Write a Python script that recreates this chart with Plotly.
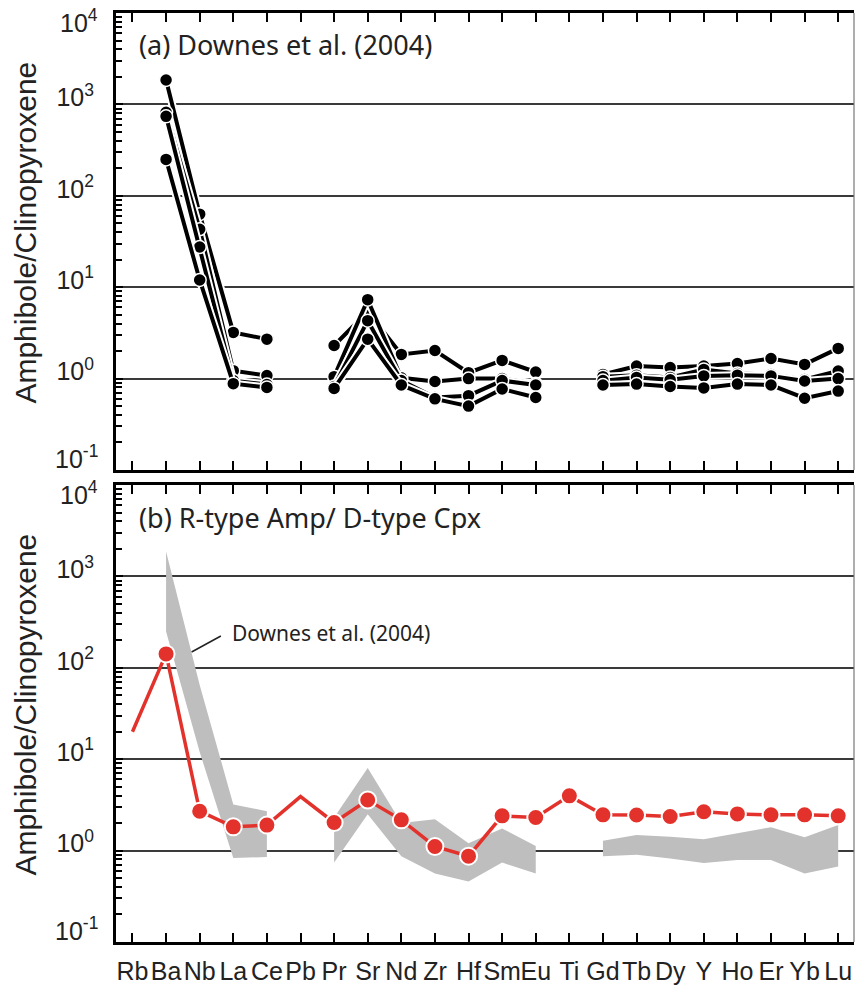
import plotly.graph_objects as go

# ---------------- data ----------------
elements = ["Rb", "Ba", "Nb", "La", "Ce", "Pb", "Pr", "Sr", "Nd", "Zr", "Hf",
            "Sm", "Eu", "Ti", "Gd", "Tb", "Dy", "Y", "Ho", "Er", "Yb", "Lu"]

# (a) Downes et al. (2004) amphibole/clinopyroxene ratios (None = not reported)
downes_1 = [None, 1850, 63, 3.2, 2.7, None, 2.3, 5.4, 1.84, 2.03, 1.16, 1.58, 1.18, None,
            1.11, 1.37, 1.32, 1.37, 1.46, 1.66, 1.43, 2.14]
downes_2 = [None, 820, 43, 1.22, 1.08, None, 1.05, 7.3, 1.02, 0.93, 1.0, 1.0, 0.88, None,
            1.05, 1.09, 1.03, 1.26, 1.14, 1.11, 0.98, 1.21]
downes_3 = [None, 740, 27.5, 0.95, 0.86, None, 0.82, 4.3, 0.95, 0.62, 0.65, 0.95, 0.85, None,
            0.95, 1.03, 0.97, 1.07, 1.09, 1.07, 0.94, 1.0]
downes_4 = [None, 250, 12, 0.88, 0.80, None, 0.78, 2.7, 0.85, 0.60, 0.50, 0.77, 0.62, None,
            0.85, 0.87, 0.82, 0.79, 0.87, 0.85, 0.61, 0.73]

# (b) grey field of Downes et al. (2004)
band_hi = [None, 1870, 65, 3.2, 2.7, None, 2.3, 8.0, 2.0, 2.2, 1.2, 1.75, 1.12, None,
           1.28, 1.48, 1.42, 1.33, 1.55, 1.8, 1.4, 1.9]
band_lo = [None, 250, 12, 0.83, 0.85, None, 0.74, 2.5, 0.87, 0.56, 0.46, 0.74, 0.56, None,
           0.87, 0.9, 0.82, 0.73, 0.79, 0.79, 0.56, 0.67]

# (b) R-type Amp / D-type Cpx
rtype = [20, 142, 2.7, 1.82, 1.9, 3.9, 2.03, 3.58, 2.17, 1.11, 0.87, 2.4, 2.3, 3.97,
         2.46, 2.45, 2.36, 2.66, 2.52, 2.46, 2.46, 2.4]
rtype_no_marker = ["Rb", "Pb"]

ytick_vals = [0.1, 1, 10, 100, 1000, 10000]
ytick_text = ["10<sup>-1</sup>", "10<sup>0</sup>", "10<sup>1</sup>",
              "10<sup>2</sup>", "10<sup>3</sup>", "10<sup>4</sup>"]

# ---------------- figure ----------------
x_idx = list(range(len(elements)))
fig = go.Figure()

for s in [downes_1, downes_2, downes_3, downes_4]:
    fig.add_trace(go.Scatter(x=x_idx, y=s, mode="lines", xaxis="x", yaxis="y",
                             line=dict(color="white", width=8), connectgaps=False,
                             hoverinfo="skip", showlegend=False))
    fig.add_trace(go.Scatter(x=x_idx, y=s, mode="lines+markers", xaxis="x", yaxis="y",
                             line=dict(color="black", width=4), connectgaps=False,
                             marker=dict(color="black", size=13,
                                         line=dict(color="white", width=1.5)),
                             showlegend=False))

runs, cur = [], []
for i, h in enumerate(band_hi):
    if h is None:
        if cur:
            runs.append(cur)
        cur = []
    else:
        cur.append(i)
if cur:
    runs.append(cur)
for r in runs:
    xs = r + r[::-1]
    ys = [band_hi[i] for i in r] + [band_lo[i] for i in r[::-1]]
    fig.add_trace(go.Scatter(x=xs, y=ys, mode="lines", fill="toself",
                             fillcolor="#bebebe", line=dict(width=0, color="#bebebe"),
                             xaxis="x2", yaxis="y2", hoverinfo="skip", showlegend=False))

red = "#e3322b"
fig.add_trace(go.Scatter(x=x_idx, y=rtype, mode="lines", xaxis="x2", yaxis="y2",
                         line=dict(color=red, width=3.5), showlegend=False))
mk_x = [i for i, e in enumerate(elements) if e not in rtype_no_marker]
mk_y = [rtype[i] for i in mk_x]
fig.add_trace(go.Scatter(x=mk_x, y=mk_y, mode="markers", xaxis="x2", yaxis="y2",
                         marker=dict(color=red, size=17, line=dict(color="white", width=2)),
                         showlegend=False))

xrange = [-0.49, 21.47]
xcommon = dict(range=xrange, tickmode="array", tickvals=x_idx, ticktext=elements,
               ticks="inside", ticklen=9, tickwidth=2, tickcolor="black",
               showline=True, linewidth=3, linecolor="black", mirror="ticks",
               showgrid=False, zeroline=False, automargin=False, tickangle=0)
# middle decade labels on the axis; the edge decades are placed as annotations
ycommon = dict(type="log", range=[-1, 4], tickmode="array", tickvals=ytick_vals,
               ticktext=[""] + ytick_text[1:-1] + [""], ticks="inside", ticklen=7,
               tickwidth=1.5, tickcolor="black", showline=True, linewidth=3,
               linecolor="black", mirror=False, showgrid=True, gridcolor="#3a3a3a",
               gridwidth=1.5, zeroline=False, ticklabelstandoff=14, ticklabelshift=-7,
               automargin=False,
               tickfont=dict(family="Liberation Sans, Arial", size=25, color="#222"),
               minor=dict(ticks="inside", ticklen=6, tickwidth=1.5, tickcolor="black",
                          dtick="D1", showgrid=False))

top_dom = [0.5081, 1.0]
bot_dom = [0.0, 0.4919]

fig.update_layout(
    width=855, height=987,
    margin=dict(l=116, r=1, t=13, b=45),
    paper_bgcolor="white", plot_bgcolor="white",
    xaxis=dict(**xcommon, domain=[0, 1], anchor="y", showticklabels=False),
    yaxis=dict(**ycommon, domain=top_dom, anchor="x"),
    xaxis2=dict(**xcommon, domain=[0, 1], anchor="y2", showticklabels=True,
                ticklabelstandoff=5,
                tickfont=dict(family="Liberation Sans, Arial", size=25, color="#222")),
    yaxis2=dict(**ycommon, domain=bot_dom, anchor="x2"),
)

tick_font = dict(family="Liberation Sans, Arial", size=25, color="#222")
for yr in ["y domain", "y2 domain"]:
    fig.add_annotation(text=ytick_text[-1], xref="paper", yref=yr, x=-0.022, y=1,
                       xanchor="right", yanchor="top", yshift=10, showarrow=False,
                       font=tick_font)
    fig.add_annotation(text=ytick_text[0], xref="paper", yref=yr, x=-0.022, y=0,
                       xanchor="right", yanchor="bottom", yshift=-5, showarrow=False,
                       font=tick_font)

for xr, yr in [("x domain", "y domain"), ("x2 domain", "y2 domain")]:
    fig.add_shape(type="line", xref=xr, yref=yr, x0=1, x1=1, y0=0, y1=1,
                  line=dict(color="#777", width=1.2))

# leader line for the grey field label
fig.add_shape(type="line", xref="x2", yref="y2", x0=1.76, y0=149, x1=2.63, y1=223,
              line=dict(color="#222", width=1.5))

title_font = dict(family="Noto Sans, Open Sans", size=27, color="#222")
fig.add_annotation(text="(a) Downes et al. (2004)", xref="x domain", yref="y domain",
                   x=0.0285, y=0.930, xanchor="left", yanchor="middle",
                   showarrow=False, font=title_font)
fig.add_annotation(text="(b) R-type Amp/ D-type Cpx", xref="x2 domain", yref="y2 domain",
                   x=0.0285, y=0.930, xanchor="left", yanchor="middle",
                   showarrow=False, font=title_font)
fig.add_annotation(text="Downes et al. (2004)", xref="x2", yref="y2",
                   x=2.9, y=2.38, xanchor="left", yanchor="middle", showarrow=False,
                   font=dict(family="Noto Sans, Open Sans", size=21, color="#222"))

ytitle_font = dict(family="Liberation Sans, Arial", size=30, color="#222")
for yr in ["y domain", "y2 domain"]:
    fig.add_annotation(text="Amphibole/Clinopyroxene", xref="paper", yref=yr,
                       x=-0.123, y=0.52, xanchor="center", yanchor="middle",
                       textangle=-90, showarrow=False, font=ytitle_font)

fig.write_html("out.html")
